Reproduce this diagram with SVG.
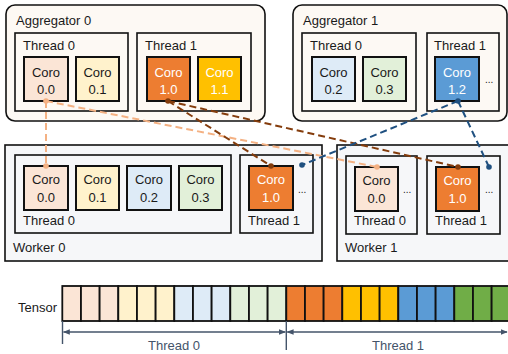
<svg xmlns="http://www.w3.org/2000/svg" width="508" height="354" viewBox="0 0 508 354">
<style>
text{font-family:"Liberation Sans",Arial,sans-serif;font-size:13px;fill:#1a1a1a}
.agg{fill:#fdf9f4;stroke:#111;stroke-width:1.6}
.wrk{fill:#f6f7f9;stroke:#111;stroke-width:1.6}
.thA{fill:#fdf9f4;stroke:#111;stroke-width:1.6}
.thW{fill:#f6f7f9;stroke:#111;stroke-width:1.6}
.coro{stroke:#111;stroke-width:2}
.ct{text-anchor:middle}
.w{fill:#fff}
.dots{font-size:10px}
.cell{stroke:#111;stroke-width:1.8}
.dim{stroke:#44546a;stroke-width:1.4;fill:none}
.dimt{fill:#44546a;text-anchor:middle}
.c1{fill:none;stroke:#f4b183;stroke-width:2;stroke-dasharray:7 4}
.c2{fill:none;stroke:#843c0c;stroke-width:2;stroke-dasharray:7 4}
.c3{fill:none;stroke:#1f5080;stroke-width:2;stroke-dasharray:7 4}
</style>
<defs>
<marker id="ah" viewBox="0 0 10 10" refX="9" refY="5" markerWidth="7" markerHeight="7" orient="auto-start-reverse" markerUnits="userSpaceOnUse">
<path d="M0,1 L10,5 L0,9 Z" fill="#44546a"/>
</marker>
</defs>

<g id="aggregator0">
<rect class="agg" x="6" y="5" width="259" height="116" rx="9"/>
<text x="16" y="25">Aggregator 0</text>
<g id="agg0-thread0">
<rect class="thA" x="15" y="33" width="113" height="78"/>
<text x="23" y="50">Thread 0</text>
<g id="agg0-coro00"><rect class="coro" x="24" y="57" width="44" height="44" fill="#fbe5d6"/><text class="ct" x="46" y="77">Coro</text><text class="ct" x="46" y="94">0.0</text></g>
<g id="agg0-coro01"><rect class="coro" x="76" y="57" width="43" height="44" fill="#fff2cc"/><text class="ct" x="97.5" y="77">Coro</text><text class="ct" x="97.5" y="94">0.1</text></g>
</g>
<g id="agg0-thread1">
<rect class="thA" x="137" y="33" width="114" height="78"/>
<text x="145" y="50">Thread 1</text>
<g id="agg0-coro10"><rect class="coro" x="147" y="57" width="43" height="44" fill="#ed7d31"/><text class="ct w" x="168.5" y="77">Coro</text><text class="ct w" x="168.5" y="94">1.0</text></g>
<g id="agg0-coro11"><rect class="coro" x="198" y="57" width="43" height="44" fill="#ffc000"/><text class="ct w" x="219.5" y="77">Coro</text><text class="ct w" x="219.5" y="94">1.1</text></g>
</g>
</g>

<g id="aggregator1">
<rect class="agg" x="293" y="5" width="214" height="116" rx="9"/>
<text x="303" y="25">Aggregator 1</text>
<g id="agg1-thread0">
<rect class="thA" x="302" y="33" width="114" height="78"/>
<text x="310" y="50">Thread 0</text>
<g id="agg1-coro02"><rect class="coro" x="312" y="57" width="43" height="44" fill="#deebf7"/><text class="ct" x="333.5" y="77">Coro</text><text class="ct" x="333.5" y="94">0.2</text></g>
<g id="agg1-coro03"><rect class="coro" x="363" y="57" width="43" height="44" fill="#e2f0d9"/><text class="ct" x="384.5" y="77">Coro</text><text class="ct" x="384.5" y="94">0.3</text></g>
</g>
<g id="agg1-thread1">
<rect class="thA" x="427" y="33" width="72" height="78"/>
<text x="434" y="50">Thread 1</text>
<g id="agg1-coro12"><rect class="coro" x="435" y="57" width="44" height="44" fill="#5b9bd5"/><text class="ct w" x="457" y="77">Coro</text><text class="ct w" x="457" y="94">1.2</text></g>
<text class="dots" x="485" y="83">...</text>
</g>
</g>

<g id="worker0">
<rect class="wrk" x="5" y="145" width="317" height="116"/>
<text x="13" y="252">Worker 0</text>
<g id="w0-thread0">
<rect class="thW" x="15" y="155" width="216" height="78"/>
<text x="23" y="225">Thread 0</text>
<g id="w0-coro00"><rect class="coro" x="24" y="166" width="44" height="44" fill="#fbe5d6"/><text class="ct" x="46" y="184">Coro</text><text class="ct" x="46" y="202">0.0</text></g>
<g id="w0-coro01"><rect class="coro" x="76" y="166" width="43" height="44" fill="#fff2cc"/><text class="ct" x="97.5" y="184">Coro</text><text class="ct" x="97.5" y="202">0.1</text></g>
<g id="w0-coro02"><rect class="coro" x="127" y="166" width="44" height="44" fill="#deebf7"/><text class="ct" x="149" y="184">Coro</text><text class="ct" x="149" y="202">0.2</text></g>
<g id="w0-coro03"><rect class="coro" x="179" y="166" width="43" height="44" fill="#e2f0d9"/><text class="ct" x="200.5" y="184">Coro</text><text class="ct" x="200.5" y="202">0.3</text></g>
</g>
<g id="w0-thread1">
<rect class="thW" x="240" y="155" width="73" height="78"/>
<text x="248" y="225">Thread 1</text>
<g id="w0-coro10"><rect class="coro" x="249" y="166" width="44" height="44" fill="#ed7d31"/><text class="ct w" x="271" y="184">Coro</text><text class="ct w" x="271" y="202">1.0</text></g>
<text class="dots" x="298" y="193">...</text>
</g>
</g>

<g id="worker1">
<rect class="wrk" x="337" y="145" width="180" height="116"/>
<text x="345" y="252">Worker 1</text>
<g id="w1-thread0">
<rect class="thW" x="346" y="156" width="71" height="78"/>
<text x="354" y="225">Thread 0</text>
<g id="w1-coro00"><rect class="coro" x="355" y="167" width="43" height="44" fill="#fbe5d6"/><text class="ct" x="376.5" y="185">Coro</text><text class="ct" x="376.5" y="203">0.0</text></g>
<text class="dots" x="403" y="193">...</text>
</g>
<g id="w1-thread1">
<rect class="thW" x="427" y="156" width="73" height="78"/>
<text x="435" y="225">Thread 1</text>
<g id="w1-coro10"><rect class="coro" x="436" y="167" width="43" height="44" fill="#ed7d31"/><text class="ct w" x="457.5" y="185">Coro</text><text class="ct w" x="457.5" y="203">1.0</text></g>
<text class="dots" x="485" y="193">...</text>
</g>
</g>

<g id="tensor">
<text x="18" y="312" font-size="12">Tensor</text>
<g id="tensor-cells">
<rect class="cell" x="62.3" y="286" width="18.67" height="35" fill="#fbe5d6"/>
<rect class="cell" x="80.97" y="286" width="18.67" height="35" fill="#fbe5d6"/>
<rect class="cell" x="99.63" y="286" width="18.67" height="35" fill="#fbe5d6"/>
<rect class="cell" x="118.3" y="286" width="18.67" height="35" fill="#fff2cc"/>
<rect class="cell" x="136.97" y="286" width="18.67" height="35" fill="#fff2cc"/>
<rect class="cell" x="155.63" y="286" width="18.67" height="35" fill="#fff2cc"/>
<rect class="cell" x="174.3" y="286" width="18.67" height="35" fill="#deebf7"/>
<rect class="cell" x="192.97" y="286" width="18.67" height="35" fill="#deebf7"/>
<rect class="cell" x="211.63" y="286" width="18.67" height="35" fill="#deebf7"/>
<rect class="cell" x="230.3" y="286" width="18.67" height="35" fill="#e2f0d9"/>
<rect class="cell" x="248.97" y="286" width="18.67" height="35" fill="#e2f0d9"/>
<rect class="cell" x="267.63" y="286" width="18.67" height="35" fill="#e2f0d9"/>
<rect class="cell" x="286.3" y="286" width="18.67" height="35" fill="#ed7d31"/>
<rect class="cell" x="304.97" y="286" width="18.67" height="35" fill="#ed7d31"/>
<rect class="cell" x="323.63" y="286" width="18.67" height="35" fill="#ed7d31"/>
<rect class="cell" x="342.3" y="286" width="18.67" height="35" fill="#ffc000"/>
<rect class="cell" x="360.97" y="286" width="18.67" height="35" fill="#ffc000"/>
<rect class="cell" x="379.63" y="286" width="18.67" height="35" fill="#ffc000"/>
<rect class="cell" x="398.3" y="286" width="18.67" height="35" fill="#5b9bd5"/>
<rect class="cell" x="416.97" y="286" width="18.67" height="35" fill="#5b9bd5"/>
<rect class="cell" x="435.63" y="286" width="18.67" height="35" fill="#5b9bd5"/>
<rect class="cell" x="454.3" y="286" width="18.67" height="35" fill="#70ad47"/>
<rect class="cell" x="472.97" y="286" width="18.67" height="35" fill="#70ad47"/>
<rect class="cell" x="491.63" y="286" width="18.67" height="35" fill="#70ad47"/>
</g>
<g id="tensor-dims">
<line class="dim" x1="62.5" y1="321" x2="62.5" y2="344"/>
<line class="dim" x1="286.3" y1="321" x2="286.3" y2="350"/>
<line class="dim" x1="63.5" y1="332" x2="285.3" y2="332" marker-start="url(#ah)" marker-end="url(#ah)"/>
<line class="dim" x1="287.3" y1="332" x2="507" y2="332" marker-start="url(#ah)" marker-end="url(#ah)"/>
<text class="dimt" x="174" y="350">Thread 0</text>
<text class="dimt" x="398" y="350">Thread 1</text>
</g>
</g>

<g id="connectors">
<path class="c1" d="M46,101 L46,166"/>
<path class="c1" d="M46,101 L377,167"/>
<path class="c2" d="M168,101 L271,166"/>
<path class="c2" d="M168,101 L458,167"/>
<path class="c3" d="M458,101 L302,165"/>
<path class="c3" d="M458,101 L489,167"/>
<circle cx="46" cy="101" r="2.8" fill="#f4b183"/>
<circle cx="46" cy="166" r="2.8" fill="#f4b183"/>
<circle cx="377" cy="167" r="2.8" fill="#f4b183"/>
<circle cx="168" cy="101" r="2.8" fill="#843c0c"/>
<circle cx="271" cy="166" r="2.8" fill="#843c0c"/>
<circle cx="458" cy="167" r="2.8" fill="#843c0c"/>
<circle cx="458" cy="101" r="2.8" fill="#1f5080"/>
<circle cx="302" cy="165" r="2.8" fill="#1f5080"/>
<circle cx="489" cy="167" r="2.8" fill="#1f5080"/>
</g>
</svg>
